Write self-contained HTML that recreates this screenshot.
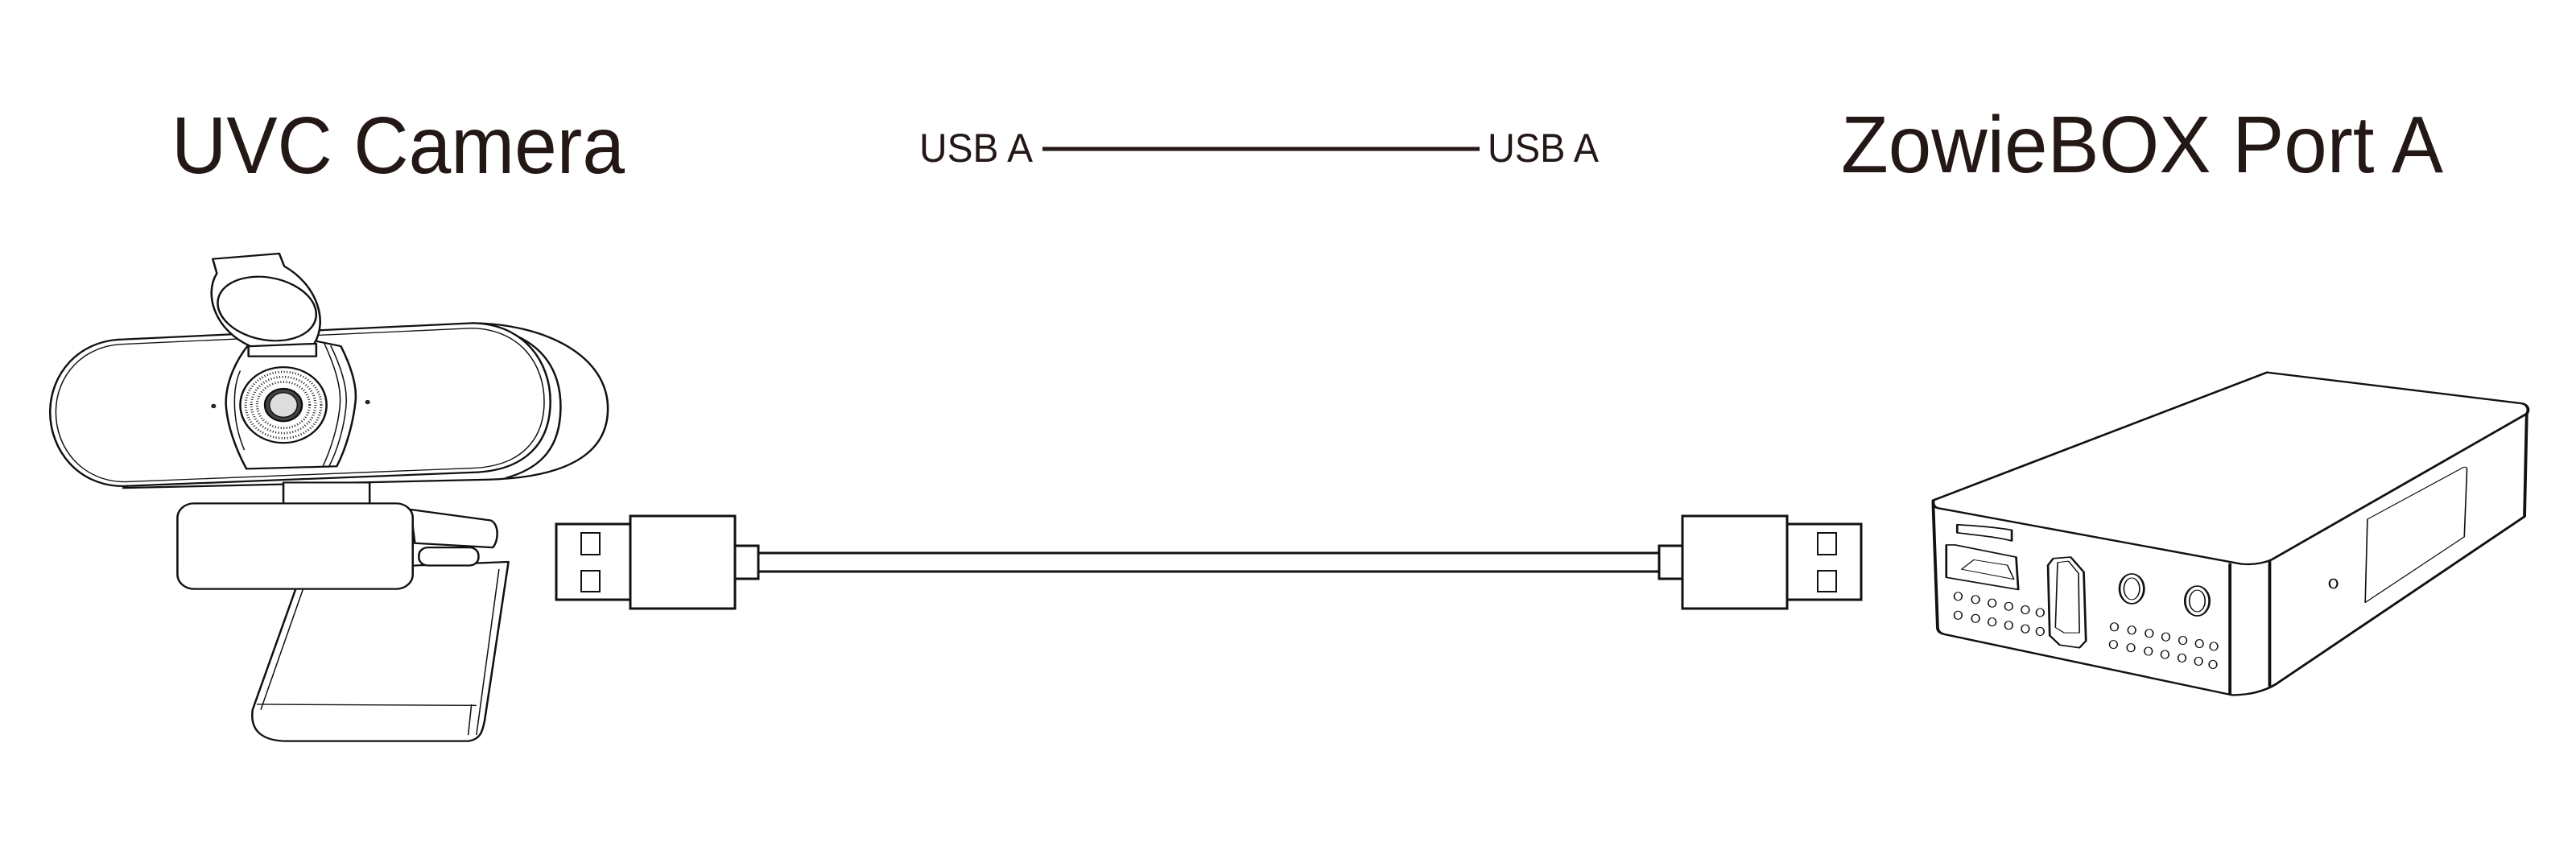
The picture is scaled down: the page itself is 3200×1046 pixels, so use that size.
<!DOCTYPE html>
<html><head><meta charset="utf-8"><style>
html,body{margin:0;padding:0;background:#fff;}
body{width:3200px;height:1046px;overflow:hidden;position:relative;}
svg{position:absolute;left:0;top:0;}
text{font-family:"Liberation Sans",Arial,sans-serif;fill:#231815;}
</style></head><body>
<svg width="3200" height="1046" viewBox="0 0 3200 1046" xmlns="http://www.w3.org/2000/svg">
<text x="213" y="215" font-size="100" textLength="563" lengthAdjust="spacingAndGlyphs">UVC Camera</text>
<text x="2287" y="214" font-size="100" textLength="748" lengthAdjust="spacingAndGlyphs">ZowieBOX Port A</text>
<text x="1142" y="201" font-size="50" textLength="141" lengthAdjust="spacingAndGlyphs">USB A</text>
<text x="1848" y="201" font-size="50" textLength="138" lengthAdjust="spacingAndGlyphs">USB A</text>
<line x1="1295" y1="185" x2="1838" y2="185" stroke="#231815" stroke-width="5"/>

<g fill="#fff" stroke="#111" stroke-width="3">
<line x1="942" y1="687" x2="2061" y2="687"/>
<line x1="942" y1="710" x2="2061" y2="710"/>
<g>
<rect x="691" y="651" width="92" height="94"/>
<rect x="783" y="641" width="130" height="115"/>
<rect x="913" y="678" width="29" height="41"/>
<rect x="722" y="662" width="23" height="27" stroke-width="2"/>
<rect x="722" y="709" width="23" height="26" stroke-width="2"/>
</g>
<g transform="translate(3003,0) scale(-1,1)">
<rect x="691" y="651" width="92" height="94"/>
<rect x="783" y="641" width="130" height="115"/>
<rect x="913" y="678" width="29" height="41"/>
<rect x="722" y="662" width="23" height="27" stroke-width="2"/>
<rect x="722" y="709" width="23" height="26" stroke-width="2"/>
</g>
</g>

<g transform="translate(0,250) scale(0.5102,0.448)" fill="#fff" stroke="#111" stroke-width="5" stroke-linejoin="round">
<path d="M1150,338 C1330,340 1480,430 1480,575 C1480,700 1380,768 1180,772 L300,795 Z"/>
<path d="M1200,352 C1330,385 1365,480 1365,570 C1365,680 1320,740 1230,768" fill="none"/>
<path d="M300,383 L1150,338 C1280,340 1340,450 1340,555 C1340,670 1280,748 1150,752 L300,790 C190,790 122,690 122,585 C122,480 190,385 300,383 Z"/>
<path d="M305,396 L1150,352 C1270,356 1325,455 1325,555 C1325,660 1270,735 1150,740 L305,778 C200,778 136,685 136,585 C136,485 200,398 305,396 Z" fill="none" stroke-width="3"/>
<path d="M720,1075 L615,1410 C608,1470 640,1497 700,1497 L1140,1497 C1170,1492 1175,1470 1180,1440 L1238,1000 L1010,1010 Z"/>
<path d="M738,1075 L635,1410 M625,1395 L1160,1398 M1215,1020 L1160,1480 M1148,1395 L1140,1480" fill="none" stroke-width="3"/>
<path d="M1000,855 L1195,885 C1215,895 1215,940 1200,960 L1010,948 Z"/>
<rect x="1020" y="960" width="145" height="50" rx="22"/>
<rect x="690" y="780" width="210" height="60"/>
<rect x="432" y="838" width="573" height="237" rx="40"/>
<path d="M605,398 L770,388 L830,402 C860,470 870,520 865,560 C860,610 845,680 820,735 L600,742 C575,690 552,620 550,560 C550,500 575,440 605,398 Z"/>
<path d="M790,395 C820,470 830,520 828,560 C825,620 805,690 785,738 M805,400 C835,470 845,520 843,560 C840,620 822,690 800,738" fill="none" stroke-width="3"/>
<path d="M585,470 C565,520 565,610 595,690" fill="none" stroke-width="3"/>
<circle cx="690" cy="565" r="105"/>
<circle cx="690" cy="565" r="92" fill="none" stroke-width="6" stroke-dasharray="2 5"/>
<circle cx="690" cy="565" r="78" fill="none" stroke-width="6" stroke-dasharray="2 5"/>
<circle cx="690" cy="565" r="64" fill="none" stroke-width="6" stroke-dasharray="2 5"/>
<circle cx="690" cy="565" r="45" fill="#444"/>
<circle cx="690" cy="565" r="34" fill="#ddd" stroke-width="3"/>
<circle cx="520" cy="568" r="5" fill="#333" stroke-width="2"/>
<circle cx="895" cy="557" r="5" fill="#333" stroke-width="2"/>
<rect x="605" y="395" width="165" height="35"/>
<path d="M518,160 L680,145 L692,180 C770,230 800,330 765,395 L610,402 C525,360 495,260 528,200 Z"/>
<ellipse cx="650" cy="298" rx="122" ry="86" transform="rotate(15 650 298)"/>
</g>

<g transform="translate(2350,430) scale(0.5421,0.336)" fill="#fff" stroke="#111" stroke-width="7" stroke-linejoin="round">
<path d="M95,570 L860,97 L1445,212 C1460,218 1460,240 1455,250 L1450,630 L880,1250 C855,1275 820,1290 780,1290 L120,1065 C108,1060 105,1050 105,1040 L95,590 Z"/>
<path d="M95,578 C95,590 100,598 110,600 L800,805 C830,810 855,800 870,790 L1455,250" fill="none"/>
<line x1="775" y1="803" x2="775" y2="1290"/>
<line x1="866" y1="795" x2="866" y2="1258"/>
<path d="M1090,640 L1310,448 C1318,445 1318,450 1318,460 L1312,705 L1085,948 Z" stroke-width="3"/>
<ellipse cx="1012" cy="878" rx="9" ry="17" stroke-width="4"/>
<g stroke-width="5">
<path d="M150,660 C200,665 240,670 275,680 L275,720 C240,705 200,700 150,690 Z"/>
<path d="M125,735 L145,735 L285,780 L290,900 L125,855 Z"/>
<path d="M160,825 L188,790 L265,810 L280,862 Z" stroke-width="3"/>
<path d="M370,785 L410,780 L440,835 L445,1090 L430,1115 L385,1105 L362,1070 L358,810 Z"/>
<path d="M380,800 L405,795 L428,840 L430,1060 L395,1060 L375,1040 Z" stroke-width="3"/>
<ellipse cx="550" cy="897" rx="28" ry="55"/>
<ellipse cx="550" cy="897" rx="18" ry="40" stroke-width="3"/>
<ellipse cx="700" cy="942" rx="28" ry="55"/>
<ellipse cx="700" cy="942" rx="18" ry="40" stroke-width="3"/>
</g>
<g stroke-width="3">
<ellipse cx="152" cy="925" rx="9" ry="15"/><ellipse cx="192" cy="937" rx="9" ry="15"/><ellipse cx="230" cy="950" rx="9" ry="15"/><ellipse cx="268" cy="962" rx="9" ry="15"/><ellipse cx="306" cy="975" rx="9" ry="15"/><ellipse cx="340" cy="985" rx="9" ry="15"/>
<ellipse cx="152" cy="995" rx="9" ry="15"/><ellipse cx="192" cy="1007" rx="9" ry="15"/><ellipse cx="230" cy="1020" rx="9" ry="15"/><ellipse cx="268" cy="1032" rx="9" ry="15"/><ellipse cx="306" cy="1045" rx="9" ry="15"/><ellipse cx="340" cy="1055" rx="9" ry="15"/>
<ellipse cx="510" cy="1038" rx="9" ry="15"/><ellipse cx="550" cy="1050" rx="9" ry="15"/><ellipse cx="590" cy="1062" rx="9" ry="15"/><ellipse cx="628" cy="1075" rx="9" ry="15"/><ellipse cx="667" cy="1088" rx="9" ry="15"/><ellipse cx="705" cy="1100" rx="9" ry="15"/><ellipse cx="738" cy="1110" rx="9" ry="15"/>
<ellipse cx="508" cy="1103" rx="9" ry="15"/><ellipse cx="548" cy="1115" rx="9" ry="15"/><ellipse cx="588" cy="1128" rx="9" ry="15"/><ellipse cx="626" cy="1140" rx="9" ry="15"/><ellipse cx="665" cy="1153" rx="9" ry="15"/><ellipse cx="703" cy="1165" rx="9" ry="15"/><ellipse cx="736" cy="1177" rx="9" ry="15"/>
</g>
</g>
</svg>
</body></html>
